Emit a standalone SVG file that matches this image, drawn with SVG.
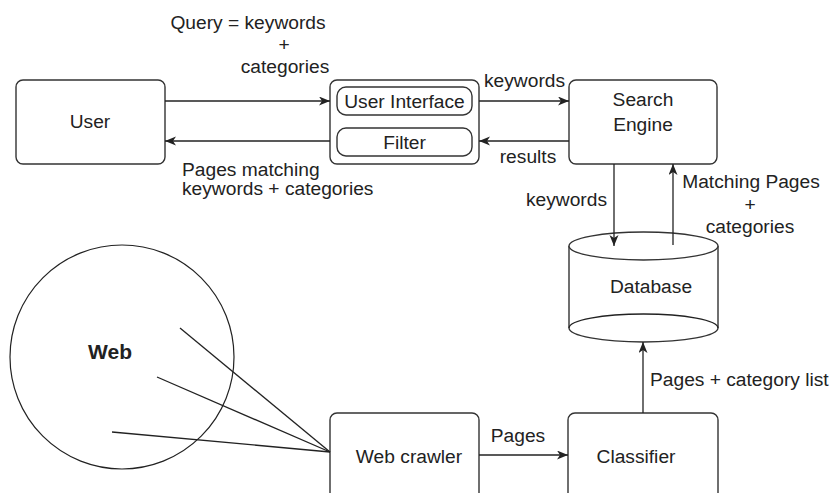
<svg xmlns="http://www.w3.org/2000/svg" width="832" height="493" viewBox="0 0 832 493">
<style>
.box{fill:#fff;stroke:#333;stroke-width:1.4}
.ln{fill:none;stroke:#222;stroke-width:1.3}
.t{font-family:"Liberation Sans",Arial,sans-serif;font-size:19.2px;fill:#222}
.m{text-anchor:middle}
.e{text-anchor:end}
</style>
<defs>
<marker id="ah" markerUnits="userSpaceOnUse" markerWidth="12" markerHeight="10" refX="11" refY="4.5" orient="auto">
<path d="M0,0 L11,4.5 L0,9 L3,4.5 z" fill="#222"/>
</marker>
</defs>
<rect width="832" height="493" fill="#fff"/>

<g id="user">
<rect class="box" x="16" y="80" width="149" height="84" rx="7"/>
<text class="t m" x="90" y="128">User</text>
</g>

<g id="ui">
<rect class="box" x="330" y="80" width="149" height="84" rx="7"/>
<rect class="box" x="337" y="87" width="135" height="28" rx="9"/>
<text class="t m" x="404.5" y="108">User Interface</text>
<rect class="box" x="337" y="128" width="135" height="28" rx="9"/>
<text class="t m" x="404.5" y="149">Filter</text>
</g>

<g id="search">
<rect class="box" x="569" y="80" width="148" height="84" rx="7"/>
<text class="t m" x="643" y="106">Search</text>
<text class="t m" x="643" y="131">Engine</text>
</g>

<g id="database">
<path class="box" d="M569,246 L569,328 A74.5,14 0 0 0 718,328 L718,246"/>
<ellipse class="box" cx="643.5" cy="246" rx="74.5" ry="14"/>
<path class="ln" d="M569,328 A74.5,14 0 0 1 718,328" stroke="#333"/>
<text class="t m" x="651" y="293">Database</text>
</g>

<g id="web">
<circle cx="122" cy="357" r="112" fill="none" stroke="#222" stroke-width="1.2"/>
<text x="110" y="359" text-anchor="middle" style="font-family:'Liberation Sans',Arial,sans-serif;font-size:21px;font-weight:bold;fill:#222">Web</text>
</g>

<g id="crawler">
<rect class="box" x="330" y="413" width="149" height="95" rx="7"/>
<text class="t m" x="409" y="463">Web crawler</text>
</g>

<g id="classifier">
<rect class="box" x="568" y="413" width="150" height="95" rx="7"/>
<text class="t m" x="636" y="463">Classifier</text>
</g>

<g id="connectors">
<line class="ln" x1="165" y1="101" x2="330" y2="101" marker-end="url(#ah)"/>
<line class="ln" x1="330" y1="141" x2="165" y2="141" marker-end="url(#ah)"/>
<line class="ln" x1="479" y1="101" x2="569" y2="101" marker-end="url(#ah)"/>
<line class="ln" x1="569" y1="141" x2="479" y2="141" marker-end="url(#ah)"/>
<line class="ln" x1="614" y1="164" x2="614" y2="246" marker-end="url(#ah)"/>
<line class="ln" x1="673" y1="245" x2="673" y2="164" marker-end="url(#ah)"/>
<line class="ln" x1="643" y1="413" x2="643" y2="342" marker-end="url(#ah)"/>
<line class="ln" x1="479" y1="455" x2="568" y2="455" marker-end="url(#ah)"/>
<line class="ln" x1="330" y1="452" x2="180" y2="328"/>
<line class="ln" x1="330" y1="452" x2="157" y2="377"/>
<line class="ln" x1="330" y1="452" x2="112" y2="432"/>
</g>

<g id="labels">
<text class="t m" x="248" y="29">Query = keywords</text>
<text class="t m" x="284" y="51">+</text>
<text class="t m" x="285" y="73">categories</text>
<text class="t" x="182" y="176">Pages matching</text>
<text class="t" x="182" y="195">keywords + categories</text>
<text class="t" x="484" y="87">keywords</text>
<text class="t m" x="528" y="163">results</text>
<text class="t e" x="607" y="206">keywords</text>
<text class="t m" x="751" y="188">Matching Pages</text>
<text class="t m" x="750" y="211">+</text>
<text class="t m" x="750" y="233">categories</text>
<text class="t" x="650" y="386">Pages + category list</text>
<text class="t m" x="518" y="442">Pages</text>
</g>
</svg>
